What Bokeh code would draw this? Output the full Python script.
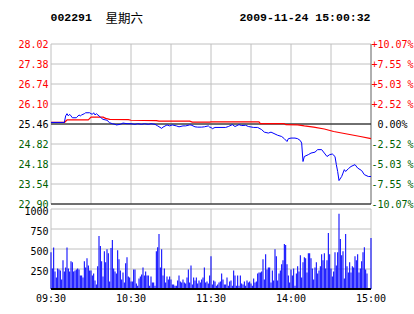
from bokeh.plotting import figure
from bokeh.models import Range1d
from bokeh.core.properties import value
from bokeh.embed import file_html
from bokeh.resources import INLINE

# ---------------- data ----------------
stock_code = "002291"
weekday = "星期六"
timestamp = "2009-11-24 15:00:32"
prev_close = 25.46

price_ticks = [22.90, 23.54, 24.18, 24.82, 25.46, 26.10, 26.74, 27.38, 28.02]
pct_labels = ["-10.07%", "-7.55 %", "-5.03 %", "-2.52 %", " 0.00%",
              "+2.52 %", "+5.03 %", "+7.55 %", "+10.07%"]

time_ticks = [0, 60, 120, 180, 240]
time_labels = ["09:30", "10:30", "11:30", "14:00", "15:00"]

vol_ticks = [250, 500, 750, 1000]
vol_labels = ["250", "500", "750", "1000"]

# minute-line (price) keypoints: minute index from 09:30 (240 trading minutes)
blue_minute = [0, 10, 11, 12, 13, 14, 15, 16, 19, 21, 22, 23, 25, 26, 29, 30, 31, 32, 33, 34,
               36, 37, 38, 39, 42, 44, 46, 48, 49, 52, 54, 57, 60, 63, 65, 68, 70, 73, 75, 78,
               80, 83, 84, 87, 89, 91, 94, 96, 99, 101, 104, 105, 108, 110, 113, 115, 118, 119,
               120, 121, 123, 131, 133, 136, 138, 141, 143, 146, 148, 152, 155, 158, 160, 163,
               165, 168, 170, 173, 175, 177, 178, 180, 183, 185, 187, 188, 189, 190, 193, 195,
               198, 200, 203, 205, 207, 209, 211, 213, 214, 215, 216, 218, 219, 220, 221, 223,
               225, 228, 230, 233, 235, 238, 240]
blue_price = [25.51, 25.51, 25.72, 25.79, 25.72, 25.77, 25.72, 25.66, 25.66, 25.75, 25.72, 25.75,
              25.79, 25.82, 25.82, 25.79, 25.77, 25.82, 25.75, 25.79,
              25.72, 25.68, 25.64, 25.61, 25.58, 25.50, 25.47, 25.45, 25.43, 25.45, 25.49, 25.47,
              25.47, 25.45, 25.47, 25.45, 25.47, 25.45, 25.47, 25.45,
              25.40, 25.32, 25.36, 25.43, 25.40, 25.43, 25.40, 25.37, 25.40, 25.40, 25.43, 25.43,
              25.37, 25.36, 25.36, 25.37, 25.40, 25.36,
              25.35, 25.31, 25.35, 25.35, 25.38, 25.44, 25.38, 25.44, 25.41, 25.42, 25.38, 25.35,
              25.35, 25.28, 25.20, 25.17,
              25.20, 25.14, 25.10, 25.06, 24.99, 24.90, 24.99, 25.01, 25.01, 24.99, 24.93, 24.85,
              24.26, 24.42, 24.48, 24.53,
              24.56, 24.64, 24.64, 24.53, 24.42, 24.48, 24.50, 24.42, 24.16, 23.94, 23.65, 23.78,
              23.89, 24.00, 23.94, 24.03,
              24.10, 24.16, 24.05, 23.97, 23.84, 23.78, 23.78]

# average-price line keypoints
red_minute = [0, 10, 12, 28, 30, 39, 41, 44, 58, 60, 79, 81, 104, 106, 119,
              120, 156, 157, 175, 176, 185, 190, 197, 205, 212, 222, 232, 240]
red_price = [25.51, 25.51, 25.59, 25.59, 25.68, 25.68, 25.64, 25.61, 25.60, 25.58, 25.57, 25.55,
             25.55, 25.52, 25.52,
             25.53, 25.53, 25.47, 25.47, 25.44, 25.43, 25.40, 25.36, 25.30, 25.22, 25.14, 25.06,
             24.99]

# per-minute volume (241 bars)
volume = [460, 257, 519, 219, 143, 257, 245, 232, 118, 359,
          219, 270, 519, 257, 219, 346, 333, 219, 232, 245,
          257, 245, 169, 169, 143, 346, 270, 384, 295, 232,
          232, 169, 194, 105, 55, 283, 662, 536, 346, 156,
          472, 333, 498, 447, 93, 511, 612, 257, 219, 194,
          485, 371, 232, 118, 207, 80, 321, 397, 156, 143,
          93, 93, 245, 245, 68, 42, 131, 156, 181, 270,
          169, 219, 169, 169, 42, 156, 80, 80, 42, 472,
          523, 688,
          270, 498, 169, 257, 80, 156, 118, 156, 118, 55,
          55, 42, 42, 105, 169, 93, 80, 118, 80, 68,
          143, 245, 80, 295, 55, 143, 105, 143, 68, 105,
          80, 118, 143, 270, 80, 93, 68, 169, 409, 55,
          105, 93, 42, 55, 80, 93, 194, 118, 55, 55,
          143, 42, 93, 105, 42, 232, 169, 42, 169, 42,
          169, 68, 55, 93, 42, 105, 80, 93, 68, 42,
          131, 80, 93, 194, 207, 207, 219, 371, 118, 434,
          245,
          270, 270, 80, 232, 105, 498, 409, 105, 194, 232,
          308, 359, 561, 549, 308, 169, 80, 245, 169, 257,
          42, 194, 283, 219, 422, 143, 333, 397, 384, 207,
          447, 447, 384, 257, 118, 270, 333, 194, 232, 283,
          434, 359, 447, 257, 359, 700, 434, 257, 156, 219,
          460, 295, 460, 941, 624, 422, 472, 131, 688, 283,
          207, 333, 207, 283, 270, 409, 359, 434, 207, 257,
          346, 460, 523, 245, 194, 0, 0, 637]

# ---------------- layout / style ----------------
W, H = 414, 314
UP, DOWN, FLAT = "#FF0000", "#006000", "#000000"
GRID, EDGE = "#C0C0C0", "#808080"
MONO = "DejaVu Sans Mono"
n_min = len(volume) - 1

# pixel geometry of the two panels (screen px from top-left)
X0_PX, PX_PER_MIN = 50.5, 4.0 / 3.0           # minute 0 -> x px
Y_TOP_PX, PX_PER_PRICE = 43.5, 31.25          # top price tick -> y px
VOL0_PX, PX_PER_VOL = 288.5, 0.08             # zero volume -> y px

def X(px):
    return (px - X0_PX) / PX_PER_MIN

def Y(px):
    return price_ticks[-1] - (px - Y_TOP_PX) / PX_PER_PRICE

def V(px):
    return (VOL0_PX - px) / PX_PER_VOL

def tone(v):
    return UP if v > prev_close + 1e-9 else (DOWN if v < prev_close - 1e-9 else FLAT)

p = figure(width=W, height=H, x_range=Range1d(X(0), X(W)), y_range=Range1d(Y(H), Y(0)),
           output_backend="svg", toolbar_location=None,
           min_border=0, min_border_left=0, min_border_right=0,
           min_border_top=0, min_border_bottom=0)
p.extra_y_ranges = {"vol": Range1d(V(H), V(0))}
p.axis.visible = False
p.grid.visible = False
p.outline_line_color = None
p.background_fill_color = "white"
p.border_fill_color = "white"

grid_x = list(range(0, n_min + 1, 30))
plo, phi = price_ticks[0], price_ticks[-1]

# ---- price panel grid ----
p.segment(x0=grid_x, y0=[plo] * len(grid_x), x1=grid_x, y1=[phi] * len(grid_x),
          line_color=GRID, line_width=1)
p.segment(x0=[0] * len(price_ticks), y0=price_ticks, x1=[n_min] * len(price_ticks),
          y1=price_ticks, line_color=GRID, line_width=1)
p.segment(x0=[n_min], y0=[plo], x1=[n_min], y1=[phi], line_color=EDGE, line_width=1)
p.segment(x0=[0, 0], y0=[prev_close, plo], x1=[n_min, n_min], y1=[prev_close, plo],
          line_color="black", line_width=1)

# ---- volume panel grid ----
vtop = vol_ticks[-1]
p.segment(x0=grid_x, y0=[0] * len(grid_x), x1=grid_x, y1=[vtop] * len(grid_x),
          line_color=GRID, line_width=1, y_range_name="vol")
p.segment(x0=[0] * len(vol_ticks), y0=vol_ticks, x1=[n_min] * len(vol_ticks), y1=vol_ticks,
          line_color=GRID, line_width=1, y_range_name="vol")

# ---- marks ----
p.vbar(x=list(range(len(volume))), top=volume, bottom=0, width=0.78,
       fill_color="#0000FF", line_color=None, y_range_name="vol")
p.segment(x0=[0], y0=[0], x1=[n_min], y1=[0], line_color="black", line_width=2,
          y_range_name="vol")

p.line(red_minute, red_price, line_color=UP, line_width=1.2)
p.line(blue_minute, blue_price, line_color="#0000FF", line_width=1)

# ---- texts ----
p.text(x=[X(48)] * len(price_ticks), y=price_ticks, text=[f"{v:.2f}" for v in price_ticks],
       text_color=[tone(v) for v in price_ticks], text_align="right", text_baseline="middle",
       text_font=value(MONO), text_font_size="10px")

right_x = [X(371) + (X(377) - X(371) if t.startswith(" ") else 0) for t in pct_labels]
p.text(x=right_x, y=price_ticks, text=[t.lstrip(" ") for t in pct_labels],
       text_color=[tone(v) for v in price_ticks], text_align="left", text_baseline="middle",
       text_font=value(MONO), text_font_size="10px")

p.text(x=[X(48)] * len(vol_ticks), y=vol_ticks, text=vol_labels, y_offset=2,
       text_color="black", text_align="right", text_baseline="middle",
       text_font=value(MONO), text_font_size="10px", y_range_name="vol")

p.text(x=time_ticks, y=[V(298)] * len(time_ticks), text=time_labels,
       text_color="black", text_align="center", text_baseline="middle",
       text_font=value(MONO), text_font_size="10px", y_range_name="vol")

p.text(x=[X(50)], y=[Y(17)], text=[stock_code], text_color="black", text_align="left",
       text_baseline="middle", text_font=value("Liberation Mono"), text_font_style="bold",
       text_font_size="11.5px")
p.text(x=[X(105)], y=[Y(17)], text=[weekday], text_color="black", text_align="left",
       text_baseline="middle", text_font=value("Noto Sans CJK SC"), text_font_size="12.5px")
p.text(x=[X(370)], y=[Y(17)], text=[timestamp], text_color="black", text_align="right",
       text_baseline="middle", text_font=value("Liberation Mono"), text_font_style="bold",
       text_font_size="11.5px")

open("out.html", "w").write(file_html(p, INLINE))
